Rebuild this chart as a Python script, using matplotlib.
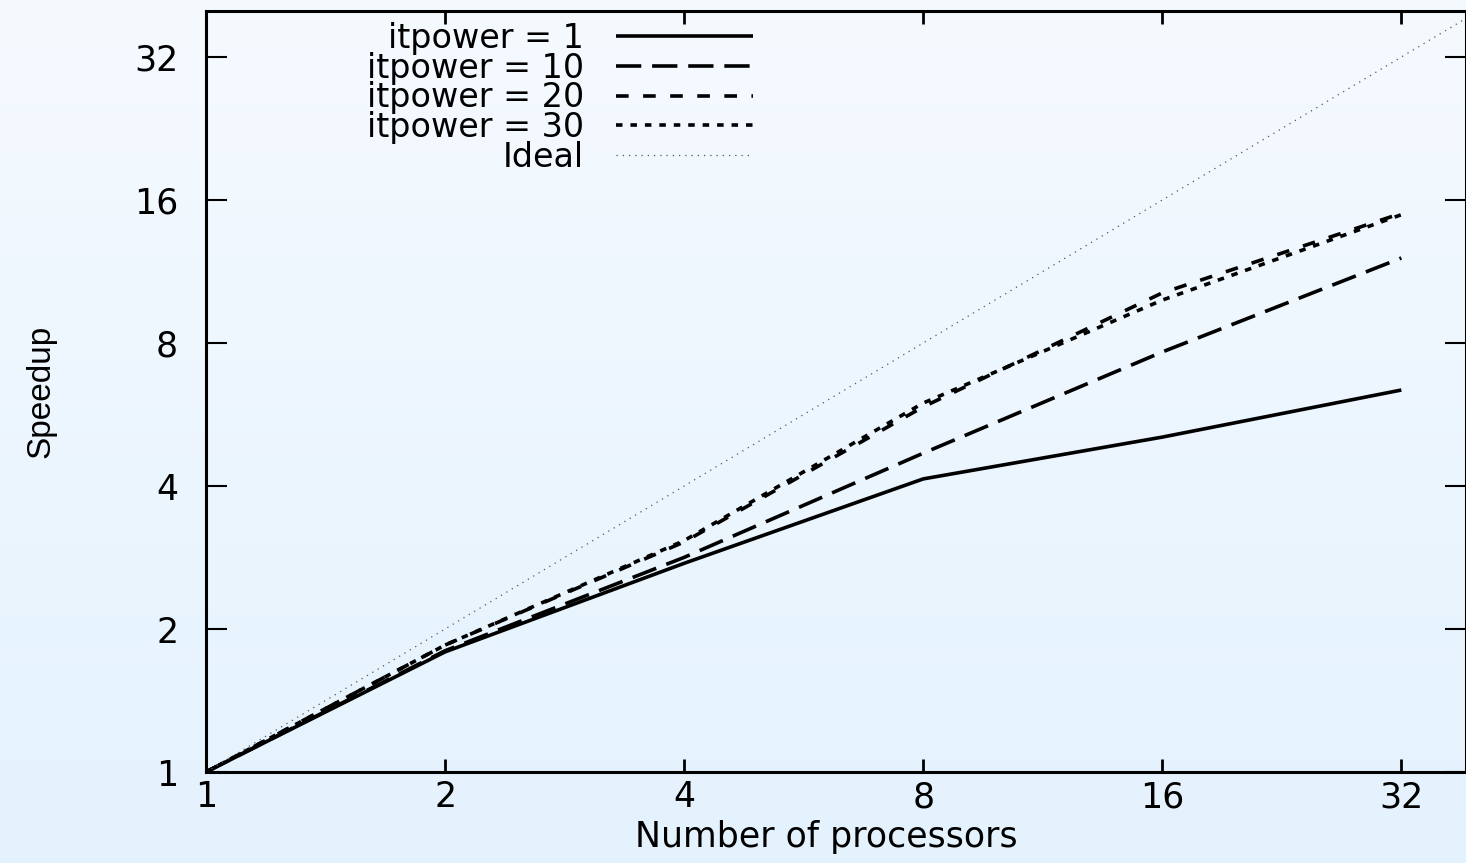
import matplotlib
matplotlib.use('Agg')
import matplotlib.pyplot as plt
import numpy as np

# 数据：处理器数量与加速比
procs = [1, 2, 4, 8, 16, 32]
speed_1 = [1.0, 1.79, 2.75, 4.14, 5.07, 6.37]
speed_10 = [1.0, 1.80, 2.83, 4.69, 7.66, 12.08]
speed_20 = [1.0, 1.85, 3.05, 5.87, 10.2, 15.0]
speed_30 = [1.0, 1.85, 3.07, 5.98, 9.85, 14.9]
ideal = [1, 40]
ticks = [1, 2, 4, 8, 16, 32]
tick_labels = ['1', '2', '4', '8', '16', '32']

plt.rcParams['font.family'] = ['DejaVu Sans']

fig = plt.figure(figsize=(14.66, 8.63), dpi=100)

# 背景渐变
bg = fig.add_axes([0, 0, 1, 1], zorder=-10)
grad = np.linspace(0, 1, 256).reshape(-1, 1)
top = np.array([245, 250, 255]) / 255
bot = np.array([228, 242, 253]) / 255
img = top + (bot - top) * grad[:, :, None]
bg.imshow(img, aspect='auto', extent=[0, 1, 0, 1])
bg.axis('off')

ax = fig.add_axes([206 / 1466, 1 - 772 / 863, 1 - 206 / 1466, (772 - 11) / 863])
ax.set_facecolor('none')
ax.set_xscale('log', base=2)
ax.set_yscale('log', base=2)

ax.plot(procs, speed_1, color='black', lw=2.6, solid_capstyle='butt', label='itpower = 1')
ax.plot(procs, speed_10, color='black', lw=2.6, dashes=(7, 3), label='itpower = 10')
ax.plot(procs, speed_20, color='black', lw=2.6, dashes=(3.5, 4), label='itpower = 20')
ax.plot(procs, speed_30, color='black', lw=2.6, dashes=(1.8, 2.2), label='itpower = 30')
ax.plot(ideal, ideal, color='#555555', lw=0.9, dashes=(1, 4), label='Ideal')

ax.set_xlim(1, 38.6)
ax.set_ylim(1, 40)
ax.set_xticks(ticks)
ax.set_xticklabels(tick_labels)
ax.set_yticks(ticks)
ax.set_yticklabels(tick_labels)
ax.minorticks_off()

ax.tick_params(axis='x', which='major', direction='in', length=9.5, width=2,
               top=True, bottom=True, labelsize=25, pad=6)
ax.tick_params(axis='y', which='major', direction='in', length=15, width=1.5,
               left=True, right=True, labelsize=25, pad=20)
for s in ax.spines.values():
    s.set_linewidth(2.2)

ax.set_xlabel('Number of processors', fontsize=25, va='top')
ax.xaxis.set_label_coords(0.492, -0.063)
ax.set_ylabel('Speedup', fontsize=24, va='center',
              family=['Liberation Sans', 'DejaVu Sans'])
ax.yaxis.set_label_coords(-0.131, 0.5)

leg = ax.legend(loc='upper left', bbox_to_anchor=(0.117, 1.003), frameon=False,
                markerfirst=False, fontsize=24, handlelength=4.12,
                handletextpad=0.95, labelspacing=-0.1, borderaxespad=0.0)

fig.savefig('out.png', dpi=100)
